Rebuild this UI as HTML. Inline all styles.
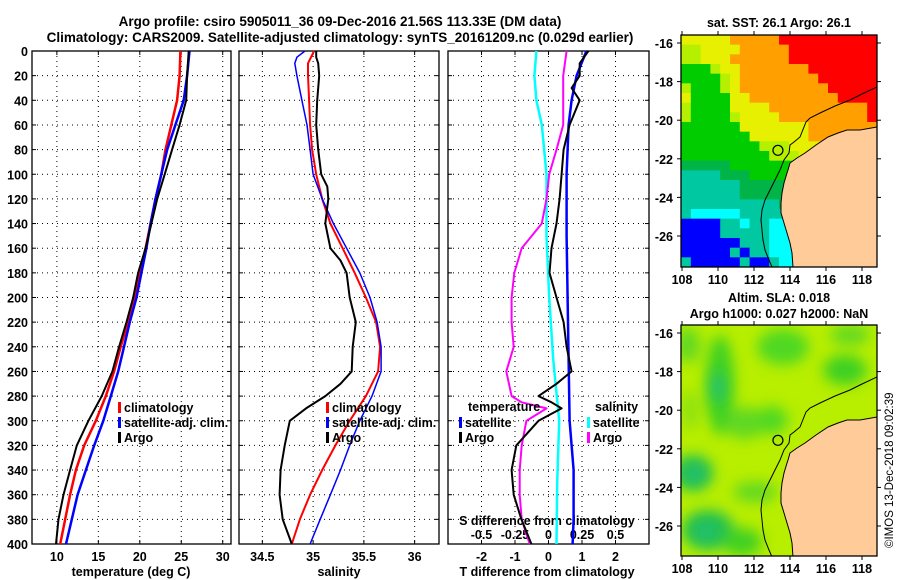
<!DOCTYPE html>
<html><head><meta charset="utf-8"><style>
html,body{margin:0;padding:0;background:#fff;}
svg{display:block;font-family:"Liberation Sans",Arial,sans-serif;font-weight:bold;}
</style></head><body>
<svg id="fig" width="900" height="580" viewBox="0 0 900 580">
<defs>
<filter id="blur" x="-50%" y="-50%" width="200%" height="200%"><feGaussianBlur stdDeviation="7"/></filter>
<clipPath id="clip1"><rect x="681" y="35" width="196" height="232"/></clipPath>
<clipPath id="clip2"><rect x="681" y="325" width="196" height="231"/></clipPath>
</defs>
<text x="340" y="26" text-anchor="middle" font-size="13.5">Argo profile: csiro 5905011_36 09-Dec-2016 21.56S 113.33E (DM data)</text>
<text x="340" y="42" text-anchor="middle" font-size="13.5">Climatology: CARS2009. Satellite-adjusted climatology: synTS_20161209.nc (0.029d earlier)</text>
<g id="plots"></g>
<g id="maps"></g>
<text transform="translate(893,548) rotate(-90)" font-size="11.5" font-weight="normal">©IMOS 13-Dec-2018 09:02:39</text>
</svg>
<script>
// ---------- DATA ----------
const depthTicks = [0,20,40,60,80,100,120,140,160,180,200,220,240,260,280,300,320,340,360,380,400];
const tTicks = [10,15,20,25,30];
const sTicks = [34.5,35,35.5,36];
const sTickLabels = ["34.5","35","35.5","36"];
const dTicks = [-2,-1,0,1,2];
const sdTicks = [-0.5,-0.25,0,0.25,0.5];
const sdTickLabels = ["-0.5","-0.25","0","0.25","0.5"];

const tClimDepth = [0,20,40,60,80,100,120,140,160,180,200,220,240,260,280,300,320,340,360,380,400];
const tClim = [24.9,24.8,24.5,23.8,23.1,22.6,21.9,21.3,20.7,20.0,19.3,18.6,17.7,16.9,15.9,14.7,13.3,12.3,11.6,11.0,10.4];
const tSat = [26.0,25.7,25.3,24.3,23.3,22.6,21.9,21.3,20.8,20.2,19.6,18.8,18.1,17.4,16.5,15.6,14.5,13.5,12.5,11.8,11.1];
const tArgo = [25.9,25.7,25.6,24.8,23.9,23.0,22.1,21.4,20.7,19.8,19.2,18.4,17.5,16.7,15.4,13.8,12.4,11.6,10.8,10.2,9.9];

const sClimDepth = [0,10,20,40,60,80,100,120,140,160,180,200,220,240,260,280,300,320,340,360,380,400];
const sClim = [35.01,34.95,34.95,34.96,34.97,34.99,35.03,35.09,35.17,35.29,35.41,35.52,35.62,35.66,35.64,35.52,35.36,35.22,35.09,34.97,34.87,34.79];
const sSatDepth = [0,5,10,20,40,60,80,100,120,140,160,180,200,220,240,260,280,300,320,340,360,380,400];
const sSat = [34.92,34.84,34.82,34.84,34.89,34.94,34.97,35.00,35.09,35.20,35.33,35.46,35.56,35.63,35.67,35.67,35.58,35.46,35.36,35.27,35.17,35.07,34.97];
const sArgoDepth = [0,5,10,20,40,60,80,100,110,120,140,160,170,180,200,220,240,260,270,280,290,300,320,340,360,380,400];
const sArgo = [35.03,35.03,35.05,35.06,35.04,35.03,35.05,35.08,35.14,35.15,35.12,35.17,35.27,35.33,35.36,35.42,35.39,35.38,35.27,35.12,34.93,34.77,34.72,34.68,34.67,34.70,34.79];

const dTSatDepth = [0,20,40,60,100,150,200,250,300,340,380,400];
const dTSat = [1.13,0.84,0.69,0.60,0.54,0.54,0.57,0.60,0.63,0.75,0.75,0.72];
const dTArgoDepth = [0,10,20,30,40,60,80,100,120,140,160,180,200,220,240,260,270,280,285,290,300,320,340,360,380,400];
const dTArgo = [1.19,0.93,0.93,0.69,0.93,0.63,0.45,0.39,0.33,0.24,0.09,0.03,0.24,0.45,0.54,0.69,0.24,-0.30,0.09,0.39,-0.30,-0.96,-1.10,-1.04,-0.81,-0.51];
const dSSatDepth = [0,20,40,60,100,150,200,250,300,350,400];
const dSSat = [-0.09,-0.105,-0.09,-0.05,-0.015,-0.015,0.005,0.035,0.08,0.065,0.06];
const dSArgoDepth = [0,20,40,60,80,100,120,140,160,180,200,220,240,260,280,285,290,300,320,340,360,380,400];
const dSArgo = [0.135,0.11,0.11,0.11,0.06,0.005,-0.015,-0.05,-0.20,-0.255,-0.275,-0.275,-0.26,-0.315,-0.275,-0.20,-0.015,-0.165,-0.20,-0.215,-0.215,-0.20,-0.14];

const lonTicks = [108,110,112,114,116,118];
const latTicks = [-16,-18,-20,-22,-24,-26];
const argoLon = [113.33];
const argoLat = [-21.56];
const sstGrid = [
"YYYYYOOOOORRRRRRRRRR",
"LLYYYYOOOOORRRRRRRRR",
"LLYYYOOOOOORRRRRRRRR",
"GGGLYYOOOOOOORRRRRRR",
"GGGGLYOOOOOOOORRRRRR",
"LGGGLYOOOOOOOOORRRRR",
"YGGGGYYOOOOOOOOORRRR",
"LGGGGYYYYOOOOOOOOOOR",
"LGGGGLYYYYOOOOOOOOOR",
"GGGGGGYYYYYYYOOOOOOO",
"GGGGGGGYYYYYYOOOOOOO",
"GGGGGGGGLLLYYYYYOOOO",
"GGGGGGGGGLLLYYYYOOOO",
"DDDDDGGGGGGGGLLLLLLL",
"TTTTDDDGGGGGGGLLLLLL",
"TTTTTTDDDDDDDGGGGGGG",
"TTTTTTDDDDDDDDGGGGGG",
"TTTTTTTTTTDDDDDDDDDD",
"TCCCCCTTTTTTDDDDDDDD",
"BBBBTTCTTCCCCCTTTTTT",
"BBBBTTTTTCCCCTTTTTTT",
"BBBBBBTTTCCCCCTTTTTT",
"BBBBBTBTTCCCCCTTTTTT",
"TBBBBBTBBTCCCCTTTTTT"];
const sstColors = {R:"#ff0000",O:"#ffa000",Y:"#e6f000",L:"#b4f000",G:"#00cc00",D:"#00b448",T:"#00c8a0",C:"#00ffff",B:"#0000ff"};

// ---------- HELPERS ----------
const NS="http://www.w3.org/2000/svg";
const Y0=51, YS=1.2325;
const yD = d => Y0 + d*YS;
function mk(tag, attrs, parent){const e=document.createElementNS(NS,tag);for(const k in attrs)e.setAttribute(k,attrs[k]);parent.appendChild(e);return e;}
const plots=document.getElementById('plots');
const panels=[
 {name:'temperature',x0:32,x1:231,v0:7,v1:31},
 {name:'salinity',x0:239,x1:439,v0:34.27,v1:36.24},
 {name:'difference',x0:448,x1:649,v0:-3,v1:3}
];
panels.forEach(p=>{p.fx=v=>p.x0+(v-p.v0)/(p.v1-p.v0)*(p.x1-p.x0);});
const xT=panels[0].fx, xS=panels[1].fx, xDT=panels[2].fx, xDS=v=>panels[2].fx(v*4);

function line(xs, depths, fx, color, w, name, parent){
  const pts=xs.map((v,i)=>fx(v).toFixed(1)+','+yD(depths[i]).toFixed(1)).join(' ');
  const e=mk('polyline',{points:pts,fill:'none',stroke:color,'stroke-width':w,'stroke-linejoin':'round'},parent);
  
  
}
function txt(s,x,y,size,anchor,parent,name,color){
  const e=mk('text',{x:x,y:y,'font-size':size,'text-anchor':anchor||'start',fill:color||'#000'},parent);
  e.textContent=s;
  
  
  return e;
}

panels.forEach((p,pi)=>{
  const g=mk('g',{},plots);
  
  
  depthTicks.forEach(d=>{ if(d>0&&d<400) mk('line',{x1:p.x0,x2:p.x1,y1:yD(d),y2:yD(d),stroke:'#000','stroke-width':1,'stroke-dasharray':'1,4'},g);
    mk('line',{x1:p.x0,x2:p.x0+4,y1:yD(d),y2:yD(d),stroke:'#000'},g);
    mk('line',{x1:p.x1-4,x2:p.x1,y1:yD(d),y2:yD(d),stroke:'#000'},g);
  });
  const vt = pi===0?tTicks:(pi===1?sTicks:dTicks);
  vt.forEach(v=>{const x=p.fx(v);
    mk('line',{x1:x,x2:x,y1:Y0,y2:yD(400),stroke:'#000','stroke-width':1,'stroke-dasharray':'1,4'},g);
    mk('line',{x1:x,x2:x,y1:yD(400)-4,y2:yD(400),stroke:'#000'},g);
    mk('line',{x1:x,x2:x,y1:Y0,y2:Y0+4,stroke:'#000'},g);
  });
  mk('rect',{x:p.x0,y:Y0,width:p.x1-p.x0,height:yD(400)-Y0,fill:'none',stroke:'#000','stroke-width':1.3},g);
});
depthTicks.forEach(d=>txt(String(d),28,yD(d)+5,12.5,'end',plots,'depth-tick-label'));
tTicks.forEach(v=>txt(String(v),xT(v),561,12.5,'middle',plots,'temperature-tick-label'));
sTicks.forEach((v,i)=>txt(sTickLabels[i],xS(v),561,12.5,'middle',plots,'salinity-tick-label'));
dTicks.forEach(v=>txt(String(v),xDT(v),561,12.5,'middle',plots,'t-diff-tick-label'));
sdTicks.forEach((v,i)=>txt(sdTickLabels[i],xDS(v),539,12.5,'middle',plots,'s-diff-tick-label'));
txt('temperature (deg C)',131,576,12.5,'middle',plots,'temperature-axis-title');
txt('salinity',339,576,12.5,'middle',plots,'salinity-axis-title');
txt('T difference from climatology',547,576,12.5,'middle',plots,'t-diff-axis-title');
txt('S difference from climatology',547,525,12.5,'middle',plots,'s-diff-axis-title');

line(tClim,tClimDepth,xT,'#ff0000',2.5,'temperature-climatology-line',plots);
line(tSat,tClimDepth,xT,'#0000ff',2.5,'temperature-satellite-line',plots);
line(tArgo,tClimDepth,xT,'#000',2,'temperature-argo-line',plots);
line(sClim,sClimDepth,xS,'#ff0000',2,'salinity-climatology-line',plots);
line(sSat,sSatDepth,xS,'#0000ff',1.5,'salinity-satellite-line',plots);
line(sArgo,sArgoDepth,xS,'#000',2,'salinity-argo-line',plots);
line(dSSat,dSSatDepth,xDS,'#00ffff',2.5,'s-diff-satellite-line',plots);
line(dSArgo,dSArgoDepth,xDS,'#ff00ff',2,'s-diff-argo-line',plots);
line(dTSat,dTSatDepth,xDT,'#0000ff',2.5,'t-diff-satellite-line',plots);
line(dTArgo,dTArgoDepth,xDT,'#000',2,'t-diff-argo-line',plots);

function legend(x,y,color,label,name){
  const g=mk('g',{},plots);
  
  
  mk('rect',{x:x,y:y-10,width:3,height:11,fill:color},g);
  txt(label,x+6,y,12.5,'start',g,name+'-label');
}
legend(118,412,'#ff0000','climatology','legend-climatology');
legend(118,427,'#0000ff','satellite-adj. clim.','legend-satellite');
legend(118,442,'#000','Argo','legend-argo');
legend(326,412,'#ff0000','climatology','legend-climatology-2');
legend(326,427,'#0000ff','satellite-adj. clim.','legend-satellite-2');
legend(326,442,'#000','Argo','legend-argo-2');
txt('temperature',468,411,12.5,'start',plots,'legend-temperature-heading');
legend(459,427,'#0000ff','satellite','legend-t-satellite');
legend(459,442,'#000','Argo','legend-t-argo');
txt('salinity',595,411,12.5,'start',plots,'legend-salinity-heading');
legend(587,427,'#00ffff','satellite','legend-s-satellite');
legend(587,442,'#ff00ff','Argo','legend-s-argo');

// ---------- MAPS ----------
const maps=document.getElementById('maps');
const MX0=681,MX1=877;
const lonX=lon=>682+(lon-108)*18;
const latY=(lat,top)=>top+8+(-16-lat)*19.3;
function landPath(top){
  const o=top-35;
  const pts=[[877,127],[860,130],[847,130],[838,133],[828,137],[816,145],[805,153],[797,158],[790,163],[788,170],[787,173],[784,183],[782,193],[781,203],[781,213],[784,223],[787,233],[790,243],[792,253],[793,267],[877,267]];
  return pts.map(p=>p[0]+','+(p[1]+o)).join(' ');
}
function contour(top){
  const o=top-35;
  const pts=[[877,87],[862,94],[850,100],[835,106],[820,113],[810,118],[806,122],[802,132],[800,137],[794,142],[790,145],[789,153],[784,160],[780,170],[775,180],[770,190],[765,200],[762,210],[761,220],[762,230],[763,240],[765,250],[769,260],[772,267]];
  return pts.map(p=>p[0]+','+(p[1]+o)).join(' ');
}
function mapAxes(g,top,bottom,name){
  mk('rect',{x:MX0,y:top,width:MX1-MX0,height:bottom-top,fill:'none',stroke:'#000','stroke-width':1.3},g);
  latTicks.forEach(l=>{const y=latY(l,top);
    mk('line',{x1:MX0-4,x2:MX0,y1:y,y2:y,stroke:'#000'},g);
    mk('line',{x1:MX1,x2:MX1+4,y1:y,y2:y,stroke:'#000'},g);
    txt(String(l),673,y+5,12.5,'end',g,name+'-lat-label');});
  lonTicks.forEach(l=>{const x=lonX(l);
    mk('line',{x1:x,x2:x,y1:bottom,y2:bottom+4,stroke:'#000'},g);
    mk('line',{x1:x,x2:x,y1:top-4,y2:top,stroke:'#000'},g);
    txt(String(l),x,bottom+17,12.5,'middle',g,name+'-lon-label');});
}
const g1=mk('g',{},maps);


const c1=mk('g',{'clip-path':'url(#clip1)'},g1);
const cw=196/20, ch=232/24;
sstGrid.forEach((row,j)=>{for(let i=0;i<row.length;i++){
  mk('rect',{x:(MX0+i*cw).toFixed(2),y:(35+j*ch).toFixed(2),width:cw+0.6,height:ch+0.6,fill:sstColors[row[i]]},c1);}});
mk('polygon',{points:landPath(35),fill:'#ffcc99',stroke:'#000','stroke-width':1},c1);
mk('polyline',{points:contour(35),fill:'none',stroke:'#000','stroke-width':1},c1);
const m1=mk('circle',{cx:lonX(argoLon[0]),cy:latY(argoLat[0],35),r:5,fill:'none',stroke:'#000','stroke-width':1.2},g1);


mapAxes(g1,35,267,'sst-map');
txt('sat. SST: 26.1 Argo: 26.1',779,27,12.5,'middle',maps,'sst-map-title');
const g2=mk('g',{},maps);


const c2=mk('g',{'clip-path':'url(#clip2)'},g2);
mk('rect',{x:MX0,y:325,width:196,height:231,fill:'#b8ee00'},c2);
const bl=mk('g',{filter:'url(#blur)'},c2);
[[720,385,14,50,'#3cd020'],[783,347,26,18,'#50d820'],[845,370,22,15,'#3cd020'],[693,473,20,18,'#20c050'],
 [745,423,20,16,'#60d820'],[772,420,16,14,'#50d820'],[708,530,26,20,'#20c050'],[742,542,20,14,'#40d020'],
 [688,345,12,18,'#60d820'],[755,492,22,10,'#60d820'],[850,335,20,10,'#60d820'],[690,410,8,20,'#88e010']
].forEach(b=>mk('ellipse',{cx:b[0],cy:b[1],rx:b[2],ry:b[3],fill:b[4]},bl));
const bl2=mk('g',{filter:'url(#blur)'},c2);
[[718,387,6,16,'#20c080'],[695,474,8,7,'#20c080'],[706,532,9,7,'#20c080']].forEach(b=>mk('ellipse',{cx:b[0],cy:b[1],rx:b[2],ry:b[3],fill:b[4]},bl2));
mk('polygon',{points:landPath(325),fill:'#ffcc99',stroke:'#000','stroke-width':1},c2);
mk('polyline',{points:contour(325),fill:'none',stroke:'#000','stroke-width':1},c2);
const m2=mk('circle',{cx:lonX(argoLon[0]),cy:latY(argoLat[0],325),r:5,fill:'none',stroke:'#000','stroke-width':1.2},g2);


mapAxes(g2,325,556,'sla-map');
txt('Altim. SLA: 0.018',779,302,12.5,'middle',maps,'sla-map-title');
txt('Argo h1000: 0.027 h2000: NaN',779,318,12.5,'middle',maps,'sla-map-subtitle');
</script>
</body></html>
